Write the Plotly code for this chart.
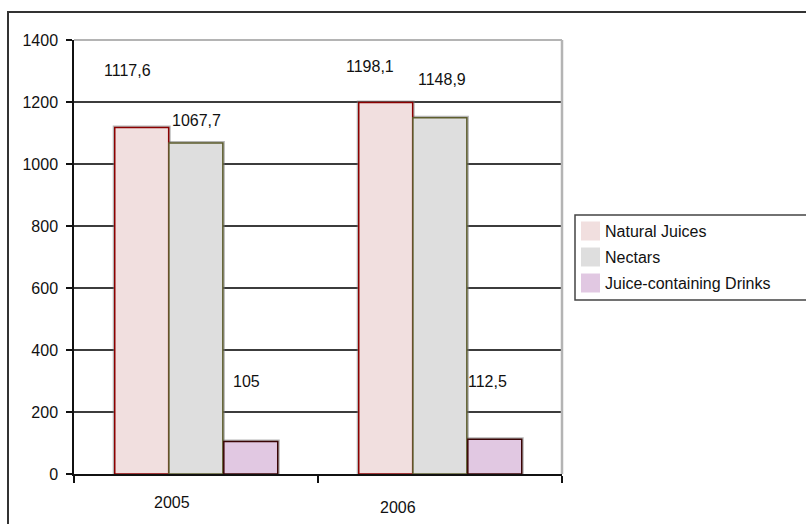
import plotly.graph_objects as go

# --- data -----------------------------------------------------------------
years = ["2005", "2006"]
series_names = ["Natural Juices", "Nectars", "Juice-containing Drinks"]
natural_juices = [1117.6, 1198.1]
nectars = [1067.7, 1148.9]
juice_drinks = [105, 112.5]
y_ticks = [0, 200, 400, 600, 800, 1000, 1200, 1400]

# --- styling ----------------------------------------------------------------
fills = ["#F1DFDF", "#DEDEDE", "#E1C8E2"]
edges = ["#8B0000", "#5E5E2E", "#3A0505"]
bar_offsets = [-0.333, -0.111, 0.114]
bar_width = 0.221
# value-label placement: (offset from category centre, height in axis units)
label_places = [
    [(-0.279, 1303), (-0.287, 1316)],
    [(0.004, 1139), (0.008, 1271)],
    [(0.205, 297), (0.193, 297)],
]
year_label_places = [(-0.098, 502), (-0.172, 507)]

FONT = "Arial, Liberation Sans, sans-serif"
W, H = 806, 524
L, R, T, B = 74, 244, 40, 50
PW, PH = W - L - R, H - T - B


def px_x(px):
    return (px - L) / PW


def px_y(py):
    return (H - B - py) / PH


def fmt(v):
    return f"{v:g}".replace(".", ",")


values = [natural_juices, nectars, juice_drinks]

fig = go.Figure()

# soft grey halo behind each bar
for vals, off in zip(values, bar_offsets):
    fig.add_trace(go.Bar(
        x=years, y=vals, offset=off, width=bar_width,
        marker=dict(color="rgba(120,120,120,0.55)",
                    line=dict(color="rgba(120,120,120,0.55)", width=4)),
        showlegend=False, hoverinfo="skip",
    ))

for name, vals, off, fc, ec in zip(series_names, values, bar_offsets, fills, edges):
    fig.add_trace(go.Bar(
        x=years, y=vals, name=name, offset=off, width=bar_width,
        marker=dict(color=fc, line=dict(color=ec, width=1.5)),
        showlegend=False,
    ))

annotations = []
for vals, places in zip(values, label_places):
    for i, (v, (dx, yy)) in enumerate(zip(vals, places)):
        annotations.append(dict(
            x=i + dx, y=yy, xref="x", yref="y", text=fmt(v), showarrow=False,
            font=dict(family=FONT, size=16, color="#111"),
            xanchor="center", yanchor="middle",
        ))

for i, (yr, (dx, py)) in enumerate(zip(years, year_label_places)):
    annotations.append(dict(
        x=i + dx, y=px_y(py), xref="x", yref="paper", text=yr, showarrow=False,
        font=dict(family=FONT, size=16, color="#111"),
        xanchor="center", yanchor="middle",
    ))

shapes = [
    # outer chart border
    dict(type="rect", xref="paper", yref="paper",
         x0=px_x(8), x1=px_x(830), y0=px_y(540), y1=px_y(12),
         line=dict(color="#333", width=2), layer="below"),
    # plot-area frame (top and right)
    dict(type="line", xref="paper", yref="paper", x0=0, x1=1, y0=1, y1=1,
         line=dict(color="#B4B4B4", width=2)),
    dict(type="line", xref="paper", yref="paper", x0=1, x1=1, y0=0, y1=1,
         line=dict(color="#B4B4B4", width=2.5)),
    # legend box
    dict(type="rect", xref="paper", yref="paper",
         x0=px_x(575), x1=px_x(830), y0=px_y(300), y1=px_y(215),
         line=dict(color="#444", width=1.5), fillcolor="white"),
]

# legend entries
for k, (name, fc) in enumerate(zip(series_names, fills)):
    cy = 231 + 26 * k
    shapes.append(dict(type="rect", xref="paper", yref="paper",
                       x0=px_x(581), x1=px_x(600),
                       y0=px_y(cy + 9.5), y1=px_y(cy - 9.5),
                       line=dict(width=0), fillcolor=fc))
    annotations.append(dict(
        x=px_x(603), y=px_y(cy), xref="paper", yref="paper", text=name,
        showarrow=False, xanchor="left", yanchor="middle",
        font=dict(family=FONT, size=16, color="#111"),
    ))

fig.update_layout(
    width=W, height=H, autosize=False,
    margin=dict(l=L, r=R, t=T, b=B, pad=0),
    paper_bgcolor="white", plot_bgcolor="white",
    barmode="overlay",
    font=dict(family=FONT, size=16, color="#111"),
    annotations=annotations, shapes=shapes,
    xaxis=dict(
        type="category", range=[-0.5, 1.5],
        showline=True, linecolor="#111", linewidth=1.5,
        ticks="outside", tickson="boundaries", ticklen=7,
        tickcolor="#111", tickwidth=1.5,
        showticklabels=False, showgrid=False, zeroline=False,
    ),
    yaxis=dict(
        range=[0, 1400], tickvals=y_ticks, ticktext=[str(v) for v in y_ticks],
        showline=True, linecolor="#111", linewidth=1.5,
        ticks="outside", ticklen=6, tickcolor="#111", tickwidth=1.5,
        showgrid=True, gridcolor="#3C3C3C", gridwidth=1.5,
        zeroline=False, ticklabelstandoff=5,
        tickfont=dict(family=FONT, size=16, color="#111"),
    ),
)

fig.write_html("out.html")
